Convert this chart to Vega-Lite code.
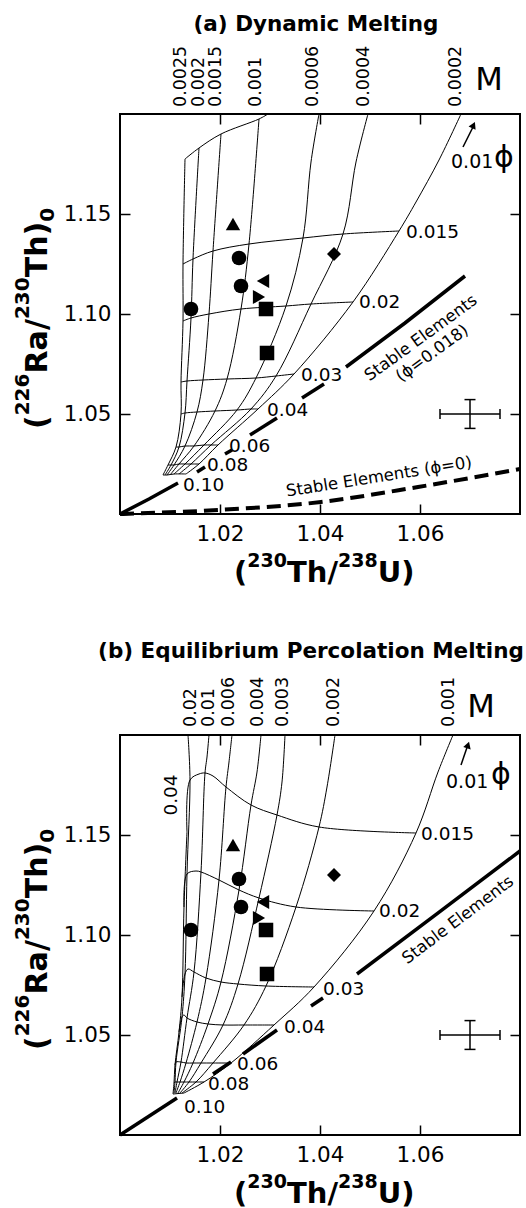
{
"$schema": "https://vega.github.io/schema/vega-lite/v6.json",
"background": "white",
"padding": {"left": 12, "top": 12, "right": 0, "bottom": 0},
"spacing": 221,
"bounds": "flush",
"config": {
 "font": "DejaVu Sans",
 "view": {"stroke": "black", "strokeWidth": 2},
 "axis": {"grid": false, "domain": false, "tickColor": "black", "tickWidth": 1.5, "tickSize": -10, "labelColor": "black", "labelFont": "DejaVu Sans", "labelFontSize": 21.5, "labelPadding": 19, "title": null}
},
"datasets": {
 "gridA": [
  {"c":"a25","i":0,"x":1.0130,"y":1.1775},{"c":"a25","i":1,"x":1.0126,"y":1.125},{"c":"a25","i":2,"x":1.0126,"y":1.0965},{"c":"a25","i":3,"x":1.0122,"y":1.066},{"c":"a25","i":4,"x":1.0122,"y":1.05},{"c":"a25","i":5,"x":1.0112,"y":1.0335},{"c":"a25","i":6,"x":1.0096,"y":1.0245},{"c":"a25","i":7,"x":1.0086,"y":1.0195},
  {"c":"a20","i":0,"x":1.0158,"y":1.183},{"c":"a20","i":1,"x":1.0146,"y":1.1275},{"c":"a20","i":2,"x":1.0142,"y":1.098},{"c":"a20","i":3,"x":1.0134,"y":1.0665},{"c":"a20","i":4,"x":1.0130,"y":1.0505},{"c":"a20","i":5,"x":1.0118,"y":1.0335},{"c":"a20","i":6,"x":1.0102,"y":1.0245},{"c":"a20","i":7,"x":1.0090,"y":1.0195},
  {"c":"a15","i":0,"x":1.0202,"y":1.19},{"c":"a15","i":1,"x":1.0186,"y":1.1315},{"c":"a15","i":2,"x":1.0178,"y":1.1},{"c":"a15","i":3,"x":1.0166,"y":1.067},{"c":"a15","i":4,"x":1.0154,"y":1.051},{"c":"a15","i":5,"x":1.0130,"y":1.034},{"c":"a15","i":6,"x":1.0108,"y":1.0245},{"c":"a15","i":7,"x":1.0094,"y":1.0195},
  {"c":"a10","i":0,"x":1.0278,"y":1.1975},{"c":"a10","i":1,"x":1.0258,"y":1.135},{"c":"a10","i":2,"x":1.0242,"y":1.1025},{"c":"a10","i":3,"x":1.0214,"y":1.0675},{"c":"a10","i":4,"x":1.0190,"y":1.0515},{"c":"a10","i":5,"x":1.0148,"y":1.034},{"c":"a10","i":6,"x":1.0118,"y":1.025},{"c":"a10","i":7,"x":1.0100,"y":1.0195},
  {"c":"a06","i":0,"x":1.0398,"y":1.2},{"c":"a06","i":1,"x":1.0382,"y":1.176},{"c":"a06","i":2,"x":1.0366,"y":1.138},{"c":"a06","i":3,"x":1.0332,"y":1.104},{"c":"a06","i":4,"x":1.0272,"y":1.068},{"c":"a06","i":5,"x":1.0234,"y":1.052},{"c":"a06","i":6,"x":1.0168,"y":1.0345},{"c":"a06","i":7,"x":1.0130,"y":1.025},{"c":"a06","i":8,"x":1.0108,"y":1.02},
  {"c":"a04","i":0,"x":1.0496,"y":1.2},{"c":"a04","i":1,"x":1.0472,"y":1.176},{"c":"a04","i":2,"x":1.0446,"y":1.14},{"c":"a04","i":3,"x":1.0382,"y":1.105},{"c":"a04","i":4,"x":1.0312,"y":1.069},{"c":"a04","i":5,"x":1.0262,"y":1.0525},{"c":"a04","i":6,"x":1.0182,"y":1.0345},{"c":"a04","i":7,"x":1.0142,"y":1.025},{"c":"a04","i":8,"x":1.0118,"y":1.02},
  {"c":"a02","i":0,"x":1.0682,"y":1.2},{"c":"a02","i":1,"x":1.0638,"y":1.177},{"c":"a02","i":2,"x":1.0592,"y":1.156},{"c":"a02","i":3,"x":1.0558,"y":1.1415},{"c":"a02","i":4,"x":1.0466,"y":1.106},{"c":"a02","i":5,"x":1.0348,"y":1.07},{"c":"a02","i":6,"x":1.0276,"y":1.0525},{"c":"a02","i":7,"x":1.0196,"y":1.0345},{"c":"a02","i":8,"x":1.0158,"y":1.025},{"c":"a02","i":9,"x":1.0132,"y":1.02},
  {"c":"f01","i":0,"x":1.0130,"y":1.1775},{"c":"f01","i":1,"x":1.0158,"y":1.183},{"c":"f01","i":2,"x":1.0202,"y":1.19},{"c":"f01","i":3,"x":1.0278,"y":1.1975},{"c":"f01","i":4,"x":1.0296,"y":1.2},
  {"c":"f015","i":0,"x":1.0126,"y":1.125},{"c":"f015","i":1,"x":1.0146,"y":1.1275},{"c":"f015","i":2,"x":1.0186,"y":1.1315},{"c":"f015","i":3,"x":1.0258,"y":1.135},{"c":"f015","i":4,"x":1.0366,"y":1.138},{"c":"f015","i":5,"x":1.0446,"y":1.14},{"c":"f015","i":6,"x":1.0558,"y":1.1415},
  {"c":"f02","i":0,"x":1.0126,"y":1.0965},{"c":"f02","i":1,"x":1.0142,"y":1.098},{"c":"f02","i":2,"x":1.0178,"y":1.1},{"c":"f02","i":3,"x":1.0242,"y":1.1025},{"c":"f02","i":4,"x":1.0332,"y":1.104},{"c":"f02","i":5,"x":1.0382,"y":1.105},{"c":"f02","i":6,"x":1.0466,"y":1.106},
  {"c":"f03","i":0,"x":1.0122,"y":1.066},{"c":"f03","i":1,"x":1.0134,"y":1.0665},{"c":"f03","i":2,"x":1.0166,"y":1.067},{"c":"f03","i":3,"x":1.0214,"y":1.0675},{"c":"f03","i":4,"x":1.0272,"y":1.068},{"c":"f03","i":5,"x":1.0312,"y":1.069},{"c":"f03","i":6,"x":1.0348,"y":1.07},
  {"c":"f04","i":0,"x":1.0122,"y":1.05},{"c":"f04","i":1,"x":1.0130,"y":1.0505},{"c":"f04","i":2,"x":1.0154,"y":1.051},{"c":"f04","i":3,"x":1.0190,"y":1.0515},{"c":"f04","i":4,"x":1.0234,"y":1.052},{"c":"f04","i":5,"x":1.0262,"y":1.0525},{"c":"f04","i":6,"x":1.0276,"y":1.0525},
  {"c":"f06","i":0,"x":1.0112,"y":1.0335},{"c":"f06","i":1,"x":1.0118,"y":1.0335},{"c":"f06","i":2,"x":1.0130,"y":1.034},{"c":"f06","i":3,"x":1.0148,"y":1.034},{"c":"f06","i":4,"x":1.0168,"y":1.0345},{"c":"f06","i":5,"x":1.0182,"y":1.0345},{"c":"f06","i":6,"x":1.0196,"y":1.0345},
  {"c":"f08","i":0,"x":1.0096,"y":1.0245},{"c":"f08","i":1,"x":1.0102,"y":1.0245},{"c":"f08","i":2,"x":1.0108,"y":1.0245},{"c":"f08","i":3,"x":1.0118,"y":1.025},{"c":"f08","i":4,"x":1.0130,"y":1.025},{"c":"f08","i":5,"x":1.0142,"y":1.025},{"c":"f08","i":6,"x":1.0158,"y":1.025},
  {"c":"f10","i":0,"x":1.0086,"y":1.0195},{"c":"f10","i":1,"x":1.0094,"y":1.0195},{"c":"f10","i":2,"x":1.0108,"y":1.02},{"c":"f10","i":3,"x":1.0132,"y":1.02}
 ],
 "gridB": [
  {"c":"b001","i":0,"x":1.0666,"y":1.2},{"c":"b001","i":1,"x":1.0636,"y":1.1815},{"c":"b001","i":2,"x":1.0592,"y":1.151},{"c":"b001","i":3,"x":1.0508,"y":1.112},{"c":"b001","i":4,"x":1.0388,"y":1.074},{"c":"b001","i":5,"x":1.0308,"y":1.055},{"c":"b001","i":6,"x":1.0222,"y":1.036},{"c":"b001","i":7,"x":1.0168,"y":1.0265},{"c":"b001","i":8,"x":1.0128,"y":1.021},
  {"c":"b002","i":0,"x":1.043,"y":1.2},{"c":"b002","i":1,"x":1.0414,"y":1.174},{"c":"b002","i":2,"x":1.0398,"y":1.154},{"c":"b002","i":3,"x":1.0352,"y":1.114},{"c":"b002","i":4,"x":1.0292,"y":1.0745},{"c":"b002","i":5,"x":1.0248,"y":1.055},{"c":"b002","i":6,"x":1.0186,"y":1.036},{"c":"b002","i":7,"x":1.0152,"y":1.0265},{"c":"b002","i":8,"x":1.0124,"y":1.021},
  {"c":"b003","i":0,"x":1.033,"y":1.2},{"c":"b003","i":1,"x":1.0324,"y":1.1765},{"c":"b003","i":2,"x":1.0314,"y":1.16},{"c":"b003","i":3,"x":1.0278,"y":1.1185},{"c":"b003","i":4,"x":1.0236,"y":1.0755},{"c":"b003","i":5,"x":1.0206,"y":1.055},{"c":"b003","i":6,"x":1.0162,"y":1.036},{"c":"b003","i":7,"x":1.0138,"y":1.0265},{"c":"b003","i":8,"x":1.012,"y":1.021},
  {"c":"b004","i":0,"x":1.0282,"y":1.2},{"c":"b004","i":1,"x":1.0274,"y":1.1815},{"c":"b004","i":2,"x":1.0262,"y":1.165},{"c":"b004","i":3,"x":1.0238,"y":1.1225},{"c":"b004","i":4,"x":1.0202,"y":1.0765},{"c":"b004","i":5,"x":1.0176,"y":1.0555},{"c":"b004","i":6,"x":1.0146,"y":1.036},{"c":"b004","i":7,"x":1.0128,"y":1.0265},{"c":"b004","i":8,"x":1.0116,"y":1.021},
  {"c":"b006","i":0,"x":1.0224,"y":1.2},{"c":"b006","i":1,"x":1.0218,"y":1.1865},{"c":"b006","i":2,"x":1.0212,"y":1.174},{"c":"b006","i":3,"x":1.0198,"y":1.1275},{"c":"b006","i":4,"x":1.0172,"y":1.0785},{"c":"b006","i":5,"x":1.0154,"y":1.0565},{"c":"b006","i":6,"x":1.0132,"y":1.036},{"c":"b006","i":7,"x":1.012,"y":1.0265},{"c":"b006","i":8,"x":1.0112,"y":1.021},
  {"c":"b01","i":0,"x":1.0178,"y":1.2},{"c":"b01","i":1,"x":1.0174,"y":1.189},{"c":"b01","i":2,"x":1.017,"y":1.181},{"c":"b01","i":3,"x":1.0162,"y":1.1315},{"c":"b01","i":4,"x":1.0148,"y":1.0815},{"c":"b01","i":5,"x":1.0134,"y":1.0585},{"c":"b01","i":6,"x":1.0122,"y":1.0365},{"c":"b01","i":7,"x":1.0114,"y":1.0265},{"c":"b01","i":8,"x":1.011,"y":1.021},
  {"c":"b02","i":0,"x":1.0136,"y":1.2},{"c":"b02","i":1,"x":1.014,"y":1.1775},{"c":"b02","i":2,"x":1.0134,"y":1.1305},{"c":"b02","i":3,"x":1.013,"y":1.0805},{"c":"b02","i":4,"x":1.0124,"y":1.059},{"c":"b02","i":5,"x":1.0112,"y":1.0365},{"c":"b02","i":6,"x":1.011,"y":1.0265},{"c":"b02","i":7,"x":1.0108,"y":1.021},
  {"c":"b04","i":0,"x":1.0134,"y":1.1515},{"c":"b04","i":1,"x":1.0128,"y":1.114},{"c":"b04","i":2,"x":1.0124,"y":1.069},{"c":"b04","i":3,"x":1.0118,"y":1.0515},{"c":"b04","i":4,"x":1.011,"y":1.035},{"c":"b04","i":5,"x":1.0108,"y":1.026},{"c":"b04","i":6,"x":1.0106,"y":1.0205},
  {"c":"g015","i":0,"x":1.0134,"y":1.1515},{"c":"g015","i":1,"x":1.014,"y":1.1775},{"c":"g015","i":2,"x":1.0158,"y":1.1805},{"c":"g015","i":3,"x":1.017,"y":1.181},{"c":"g015","i":4,"x":1.0186,"y":1.1795},{"c":"g015","i":5,"x":1.0212,"y":1.174},{"c":"g015","i":6,"x":1.0262,"y":1.165},{"c":"g015","i":7,"x":1.0314,"y":1.16},{"c":"g015","i":8,"x":1.0398,"y":1.154},{"c":"g015","i":9,"x":1.0592,"y":1.151},
  {"c":"g02","i":0,"x":1.0128,"y":1.114},{"c":"g02","i":1,"x":1.0134,"y":1.1305},{"c":"g02","i":2,"x":1.0152,"y":1.132},{"c":"g02","i":3,"x":1.0162,"y":1.1315},{"c":"g02","i":4,"x":1.0198,"y":1.1275},{"c":"g02","i":5,"x":1.0238,"y":1.1225},{"c":"g02","i":6,"x":1.0278,"y":1.1185},{"c":"g02","i":7,"x":1.0352,"y":1.114},{"c":"g02","i":8,"x":1.0508,"y":1.112},
  {"c":"g03","i":0,"x":1.0124,"y":1.069},{"c":"g03","i":1,"x":1.013,"y":1.0805},{"c":"g03","i":2,"x":1.0136,"y":1.083},{"c":"g03","i":3,"x":1.0148,"y":1.0815},{"c":"g03","i":4,"x":1.0172,"y":1.0785},{"c":"g03","i":5,"x":1.0202,"y":1.0765},{"c":"g03","i":6,"x":1.0236,"y":1.0755},{"c":"g03","i":7,"x":1.0292,"y":1.0745},{"c":"g03","i":8,"x":1.0388,"y":1.074},
  {"c":"g04","i":0,"x":1.0118,"y":1.0515},{"c":"g04","i":1,"x":1.0124,"y":1.059},{"c":"g04","i":2,"x":1.0128,"y":1.06},{"c":"g04","i":3,"x":1.0134,"y":1.0585},{"c":"g04","i":4,"x":1.0154,"y":1.0565},{"c":"g04","i":5,"x":1.0176,"y":1.0555},{"c":"g04","i":6,"x":1.0206,"y":1.055},{"c":"g04","i":7,"x":1.0248,"y":1.055},{"c":"g04","i":8,"x":1.0308,"y":1.055},
  {"c":"g06","i":0,"x":1.011,"y":1.035},{"c":"g06","i":1,"x":1.0112,"y":1.0365},{"c":"g06","i":2,"x":1.0122,"y":1.0365},{"c":"g06","i":3,"x":1.0132,"y":1.036},{"c":"g06","i":4,"x":1.0146,"y":1.036},{"c":"g06","i":5,"x":1.0162,"y":1.036},{"c":"g06","i":6,"x":1.0186,"y":1.036},{"c":"g06","i":7,"x":1.0222,"y":1.036},
  {"c":"g08","i":0,"x":1.0108,"y":1.026},{"c":"g08","i":1,"x":1.011,"y":1.0265},{"c":"g08","i":2,"x":1.0114,"y":1.0265},{"c":"g08","i":3,"x":1.012,"y":1.0265},{"c":"g08","i":4,"x":1.0128,"y":1.0265},{"c":"g08","i":5,"x":1.0138,"y":1.0265},{"c":"g08","i":6,"x":1.0152,"y":1.0265},{"c":"g08","i":7,"x":1.0168,"y":1.0265},
  {"c":"g10","i":0,"x":1.0106,"y":1.0205},{"c":"g10","i":1,"x":1.0128,"y":1.021}
 ],
 "stabA": [
  {"c":"s1","i":0,"x":1.0,"y":1.0},{"c":"s1","i":1,"x":1.0058,"y":1.0075},{"c":"s1","i":2,"x":1.0116,"y":1.0155},
  {"c":"s2","i":0,"x":1.0154,"y":1.021},{"c":"s2","i":1,"x":1.017,"y":1.0235},
  {"c":"s3","i":0,"x":1.021,"y":1.03},{"c":"s3","i":1,"x":1.0224,"y":1.032},
  {"c":"s4","i":0,"x":1.026,"y":1.0395},{"c":"s4","i":1,"x":1.0314,"y":1.048},
  {"c":"s5","i":0,"x":1.0364,"y":1.058},{"c":"s5","i":1,"x":1.0408,"y":1.065},
  {"c":"s6","i":0,"x":1.0452,"y":1.0735},{"c":"s6","i":1,"x":1.057,"y":1.0955},{"c":"s6","i":2,"x":1.069,"y":1.119}
 ],
 "dashA": [
  {"i":0,"x":1.0,"y":1.0},{"i":1,"x":1.0196,"y":1.002},{"i":2,"x":1.0402,"y":1.006},{"i":3,"x":1.0596,"y":1.0135},{"i":4,"x":1.08,"y":1.0225}
 ],
 "stabB": [
  {"c":"s1","i":0,"x":1.0,"y":1.0},{"c":"s1","i":1,"x":1.0114,"y":1.0185},
  {"c":"s2","i":0,"x":1.0186,"y":1.0305},{"c":"s2","i":1,"x":1.0222,"y":1.0365},
  {"c":"s3","i":0,"x":1.0246,"y":1.0405},{"c":"s3","i":1,"x":1.0314,"y":1.0525},
  {"c":"s4","i":0,"x":1.0382,"y":1.0645},{"c":"s4","i":1,"x":1.0406,"y":1.0685},
  {"c":"s5","i":0,"x":1.0474,"y":1.0805},{"c":"s5","i":1,"x":1.0637,"y":1.1112},{"c":"s5","i":2,"x":1.08,"y":1.142}
 ],
 "pts": [
  {"x":1.0142,"y":1.1025,"s":"circle"},{"x":1.0238,"y":1.128,"s":"circle"},{"x":1.0242,"y":1.114,"s":"circle"},
  {"x":1.0226,"y":1.145,"s":"triangle-up"},{"x":1.0286,"y":1.1165,"s":"triangle-left"},{"x":1.0278,"y":1.1085,"s":"triangle-right"},
  {"x":1.0292,"y":1.1025,"s":"square"},{"x":1.0294,"y":1.0805,"s":"square"},{"x":1.0428,"y":1.13,"s":"diamond"}
 ],
 "err": [
  {"x":1.064,"y":1.05,"x2":1.076,"y2":1.05},{"x":1.07,"y":1.0428,"x2":1.07,"y2":1.0572},
  {"x":1.064,"y":1.0475,"x2":1.064,"y2":1.0525},{"x":1.076,"y":1.0475,"x2":1.076,"y2":1.0525},
  {"x":1.0689,"y":1.0428,"x2":1.0711,"y2":1.0428},{"x":1.0689,"y":1.0572,"x2":1.0711,"y2":1.0572}
 ],
 "xt": [
  {"t":"(","x":1.0228,"y":0.966,"k":"main"},{"t":"Th/","x":1.0334,"y":0.966,"k":"main"},{"t":"U)","x":1.05154,"y":0.966,"k":"main"},
  {"t":"230","x":1.02546,"y":0.9735,"k":"sup"},{"t":"238","x":1.0436,"y":0.9735,"k":"sup"}
 ],
 "yt": [
  {"t":"(","x":0.9854,"y":1.0425,"k":"main"},{"t":"Ra","x":0.9854,"y":1.07025,"k":"main"},{"t":"/","x":0.9854,"y":1.09195,"k":"main"},{"t":"Th","x":0.9854,"y":1.11835,"k":"main"},{"t":")","x":0.9854,"y":1.13925,"k":"main"},
  {"t":"226","x":0.9818,"y":1.04935,"k":"sup"},{"t":"230","x":0.9818,"y":1.09745,"k":"sup"},
  {"t":"0","x":0.9868,"y":1.1461,"k":"sub"}
 ],
 "phiA": [
  {"t":"0.015","x":1.0572,"y":1.141},{"t":"0.02","x":1.0478,"y":1.106},{"t":"0.03","x":1.0362,"y":1.0695},{"t":"0.04","x":1.0294,"y":1.052},{"t":"0.06","x":1.0218,"y":1.034},{"t":"0.08","x":1.0174,"y":1.0245},{"t":"0.10","x":1.0126,"y":1.0145}
 ],
 "phiB": [
  {"t":"0.015","x":1.0602,"y":1.1505},{"t":"0.02","x":1.0518,"y":1.112},{"t":"0.03","x":1.0406,"y":1.073},{"t":"0.04","x":1.0328,"y":1.054},{"t":"0.06","x":1.0234,"y":1.0355},{"t":"0.08","x":1.0176,"y":1.0255},{"t":"0.10","x":1.0128,"y":1.014}
 ],
 "mA": [
  {"t":"0.0025","x":1.0122,"y":1.2035},{"t":"0.002","x":1.0158,"y":1.2035},{"t":"0.0015","x":1.0192,"y":1.2035},{"t":"0.001","x":1.0272,"y":1.2035},{"t":"0.0006","x":1.0386,"y":1.2035},{"t":"0.0004","x":1.0488,"y":1.2035},{"t":"0.0002","x":1.0672,"y":1.2035}
 ],
 "mB": [
  {"t":"0.02","x":1.0142,"y":1.204},{"t":"0.01","x":1.0178,"y":1.204},{"t":"0.006","x":1.0218,"y":1.204},{"t":"0.004","x":1.0276,"y":1.204},{"t":"0.003","x":1.0326,"y":1.204},{"t":"0.002","x":1.0428,"y":1.204},{"t":"0.001","x":1.0658,"y":1.204}
 ]
},
"vconcat": [
 {
  "width": 400, "height": 400,
  "encoding": {
   "x": {"field": "x", "type": "quantitative", "scale": {"domain": [1, 1.08], "nice": false, "zero": false}, "axis": null},
   "y": {"field": "y", "type": "quantitative", "scale": {"domain": [1, 1.2], "nice": false, "zero": false}, "axis": null}
  },
  "resolve": {"axis": {"x": "independent", "y": "independent"}},
  "layer": [
   {"data": {"name": "gridA"}, "mark": {"type": "line", "stroke": "black", "strokeWidth": 1, "interpolate": "catmull-rom"},
    "encoding": {
     "x": {"field": "x", "type": "quantitative", "scale": {"domain": [1, 1.08], "nice": false, "zero": false}, "axis": {"orient": "bottom", "values": [1.02, 1.04, 1.06], "format": ".2f", "title": null}},
     "y": {"field": "y", "type": "quantitative", "scale": {"domain": [1, 1.2], "nice": false, "zero": false}, "axis": {"orient": "left", "values": [1.05, 1.1, 1.15], "format": ".2f", "title": null}},
     "detail": {"field": "c"}, "order": {"field": "i", "type": "quantitative"}}},
   {"data": {"name": "stabA"}, "mark": {"type": "line", "stroke": "black", "strokeWidth": 3.5},
    "encoding": {
     "x": {"field": "x", "type": "quantitative", "scale": {"domain": [1, 1.08], "nice": false, "zero": false}, "axis": {"orient": "top", "values": [1.02, 1.04, 1.06], "labels": false, "title": null}},
     "y": {"field": "y", "type": "quantitative", "scale": {"domain": [1, 1.2], "nice": false, "zero": false}, "axis": {"orient": "right", "values": [1.05, 1.1, 1.15], "labels": false, "title": null}},
     "detail": {"field": "c"}, "order": {"field": "i", "type": "quantitative"}}},
   {"data": {"name": "dashA"}, "mark": {"type": "line", "stroke": "black", "strokeWidth": 4, "strokeDash": [14, 7], "interpolate": "monotone"},
    "encoding": {"order": {"field": "i", "type": "quantitative"}}},
   {"data": {"name": "err"}, "mark": {"type": "rule", "stroke": "black", "strokeWidth": 1.5},
    "encoding": {"x2": {"field": "x2"}, "y2": {"field": "y2"}}},
   {"data": {"name": "pts"}, "mark": {"type": "point", "filled": true, "fill": "black", "opacity": 1},
    "encoding": {
     "shape": {"field": "s", "type": "nominal", "scale": null},
     "size": {"field": "s", "type": "nominal", "scale": {"domain": ["circle", "square", "triangle-up", "triangle-left", "triangle-right", "diamond"], "range": [215, 195, 280, 230, 230, 300]}, "legend": null}}},
   {"data": {"name": "xt"}, "transform": [{"filter": "datum.k == 'main'"}], "mark": {"type": "text", "align": "left", "baseline": "alphabetic", "fontSize": 29, "fontWeight": "bold"},
    "encoding": {"text": {"field": "t"}}},
   {"data": {"name": "xt"}, "transform": [{"filter": "datum.k == 'sup'"}], "mark": {"type": "text", "align": "left", "baseline": "alphabetic", "fontSize": 19, "fontWeight": "bold"},
    "encoding": {"text": {"field": "t"}}},
   {"data": {"name": "yt"}, "transform": [{"filter": "datum.k == 'main'"}], "mark": {"type": "text", "align": "left", "baseline": "alphabetic", "fontSize": 30, "fontWeight": "bold", "angle": -90},
    "encoding": {"text": {"field": "t"}}},
   {"data": {"name": "yt"}, "transform": [{"filter": "datum.k != 'main'"}], "mark": {"type": "text", "align": "left", "baseline": "alphabetic", "fontSize": 20, "fontWeight": "bold", "angle": -90},
    "encoding": {"text": {"field": "t"}}},
   {"data": {"name": "phiA"}, "mark": {"type": "text", "align": "left", "baseline": "middle", "fontSize": 18.5},
    "encoding": {"text": {"field": "t"}}},
   {"data": {"name": "mA"}, "mark": {"type": "text", "align": "left", "baseline": "middle", "fontSize": 17.5, "angle": -90},
    "encoding": {"text": {"field": "t"}}},
   {"data": {"values": [{"t": "(a) Dynamic Melting", "x": 1.0392, "y": 1.24475}]}, "mark": {"type": "text", "align": "center", "baseline": "middle", "fontSize": 21.5, "fontWeight": "bold"},
    "encoding": {"text": {"field": "t"}}},
   {"data": {"values": [{"t": "M", "x": 1.0738, "y": 1.217}]}, "mark": {"type": "text", "align": "center", "baseline": "middle", "fontSize": 32},
    "encoding": {"text": {"field": "t"}}},
   {"data": {"values": [{"t": "0.01", "x": 1.0662, "y": 1.176}]}, "mark": {"type": "text", "align": "left", "baseline": "middle", "fontSize": 19},
    "encoding": {"text": {"field": "t"}}},
   {"data": {"values": [{"t": "ϕ", "x": 1.0768, "y": 1.178}]}, "mark": {"type": "text", "align": "center", "baseline": "middle", "fontSize": 30},
    "encoding": {"text": {"field": "t"}}},
   {"data": {"values": [{"x": 1.0686, "y": 1.1835, "x2": 1.0707, "y2": 1.194}]}, "mark": {"type": "rule", "stroke": "black", "strokeWidth": 1.5},
    "encoding": {"x2": {"field": "x2"}, "y2": {"field": "y2"}}},
   {"data": {"values": [{"x": 1.0707, "y": 1.1945}]}, "mark": {"type": "point", "shape": "triangle-up", "filled": true, "fill": "black", "opacity": 1, "size": 60, "angle": 25},
    "encoding": {}},
   {"data": {"values": [{"t": ["Stable Elements", "(ϕ=0.018)"], "x": 1.0602, "y": 1.088}]}, "mark": {"type": "text", "align": "center", "baseline": "middle", "fontSize": 16.5, "angle": -36, "lineHeight": 19},
    "encoding": {"text": {"field": "t"}}},
   {"data": {"values": [{"t": "Stable Elements (ϕ=0)", "x": 1.0518, "y": 1.0185}]}, "mark": {"type": "text", "align": "center", "baseline": "middle", "fontSize": 16.5, "angle": -9},
    "encoding": {"text": {"field": "t"}}}
  ]
 },
 {
  "width": 400, "height": 400,
  "encoding": {
   "x": {"field": "x", "type": "quantitative", "scale": {"domain": [1, 1.08], "nice": false, "zero": false}, "axis": null},
   "y": {"field": "y", "type": "quantitative", "scale": {"domain": [1, 1.2], "nice": false, "zero": false}, "axis": null}
  },
  "resolve": {"axis": {"x": "independent", "y": "independent"}},
  "layer": [
   {"data": {"name": "gridB"}, "mark": {"type": "line", "stroke": "black", "strokeWidth": 1, "interpolate": "catmull-rom"},
    "encoding": {
     "x": {"field": "x", "type": "quantitative", "scale": {"domain": [1, 1.08], "nice": false, "zero": false}, "axis": {"orient": "bottom", "values": [1.02, 1.04, 1.06], "format": ".2f", "title": null}},
     "y": {"field": "y", "type": "quantitative", "scale": {"domain": [1, 1.2], "nice": false, "zero": false}, "axis": {"orient": "left", "values": [1.05, 1.1, 1.15], "format": ".2f", "title": null}},
     "detail": {"field": "c"}, "order": {"field": "i", "type": "quantitative"}}},
   {"data": {"name": "stabB"}, "mark": {"type": "line", "stroke": "black", "strokeWidth": 3.5},
    "encoding": {
     "x": {"field": "x", "type": "quantitative", "scale": {"domain": [1, 1.08], "nice": false, "zero": false}, "axis": {"orient": "top", "values": [1.02, 1.04, 1.06], "labels": false, "title": null}},
     "y": {"field": "y", "type": "quantitative", "scale": {"domain": [1, 1.2], "nice": false, "zero": false}, "axis": {"orient": "right", "values": [1.05, 1.1, 1.15], "labels": false, "title": null}},
     "detail": {"field": "c"}, "order": {"field": "i", "type": "quantitative"}}},
   {"data": {"name": "err"}, "mark": {"type": "rule", "stroke": "black", "strokeWidth": 1.5},
    "encoding": {"x2": {"field": "x2"}, "y2": {"field": "y2"}}},
   {"data": {"name": "pts"}, "mark": {"type": "point", "filled": true, "fill": "black", "opacity": 1},
    "encoding": {
     "shape": {"field": "s", "type": "nominal", "scale": null},
     "size": {"field": "s", "type": "nominal", "scale": {"domain": ["circle", "square", "triangle-up", "triangle-left", "triangle-right", "diamond"], "range": [215, 195, 280, 230, 230, 300]}, "legend": null}}},
   {"data": {"name": "xt"}, "transform": [{"filter": "datum.k == 'main'"}], "mark": {"type": "text", "align": "left", "baseline": "alphabetic", "fontSize": 29, "fontWeight": "bold"},
    "encoding": {"text": {"field": "t"}}},
   {"data": {"name": "xt"}, "transform": [{"filter": "datum.k == 'sup'"}], "mark": {"type": "text", "align": "left", "baseline": "alphabetic", "fontSize": 19, "fontWeight": "bold"},
    "encoding": {"text": {"field": "t"}}},
   {"data": {"name": "yt"}, "transform": [{"filter": "datum.k == 'main'"}], "mark": {"type": "text", "align": "left", "baseline": "alphabetic", "fontSize": 30, "fontWeight": "bold", "angle": -90},
    "encoding": {"text": {"field": "t"}}},
   {"data": {"name": "yt"}, "transform": [{"filter": "datum.k != 'main'"}], "mark": {"type": "text", "align": "left", "baseline": "alphabetic", "fontSize": 20, "fontWeight": "bold", "angle": -90},
    "encoding": {"text": {"field": "t"}}},
   {"data": {"name": "phiB"}, "mark": {"type": "text", "align": "left", "baseline": "middle", "fontSize": 18.5},
    "encoding": {"text": {"field": "t"}}},
   {"data": {"name": "mB"}, "mark": {"type": "text", "align": "left", "baseline": "middle", "fontSize": 17.5, "angle": -90},
    "encoding": {"text": {"field": "t"}}},
   {"data": {"values": [{"t": "0.04", "x": 1.0102, "y": 1.17}]}, "mark": {"type": "text", "align": "center", "baseline": "middle", "fontSize": 18.5, "angle": -90},
    "encoding": {"text": {"field": "t"}}},
   {"data": {"values": [{"t": "(b) Equilibrium Percolation Melting", "x": 1.0382, "y": 1.2415}]}, "mark": {"type": "text", "align": "center", "baseline": "middle", "fontSize": 21.5, "fontWeight": "bold"},
    "encoding": {"text": {"field": "t"}}},
   {"data": {"values": [{"t": "M", "x": 1.0722, "y": 1.214}]}, "mark": {"type": "text", "align": "center", "baseline": "middle", "fontSize": 32},
    "encoding": {"text": {"field": "t"}}},
   {"data": {"values": [{"t": "0.01", "x": 1.0652, "y": 1.1765}]}, "mark": {"type": "text", "align": "left", "baseline": "middle", "fontSize": 19},
    "encoding": {"text": {"field": "t"}}},
   {"data": {"values": [{"t": "ϕ", "x": 1.0762, "y": 1.18}]}, "mark": {"type": "text", "align": "center", "baseline": "middle", "fontSize": 30},
    "encoding": {"text": {"field": "t"}}},
   {"data": {"values": [{"x": 1.0682, "y": 1.185, "x2": 1.0695, "y2": 1.1945}]}, "mark": {"type": "rule", "stroke": "black", "strokeWidth": 1.5},
    "encoding": {"x2": {"field": "x2"}, "y2": {"field": "y2"}}},
   {"data": {"values": [{"x": 1.0696, "y": 1.195}]}, "mark": {"type": "point", "shape": "triangle-up", "filled": true, "fill": "black", "opacity": 1, "size": 60, "angle": 18},
    "encoding": {}},
   {"data": {"values": [{"t": "Stable Elements", "x": 1.0676, "y": 1.1075}]}, "mark": {"type": "text", "align": "center", "baseline": "middle", "fontSize": 16.5, "angle": -37},
    "encoding": {"text": {"field": "t"}}}
  ]
 }
]
}
